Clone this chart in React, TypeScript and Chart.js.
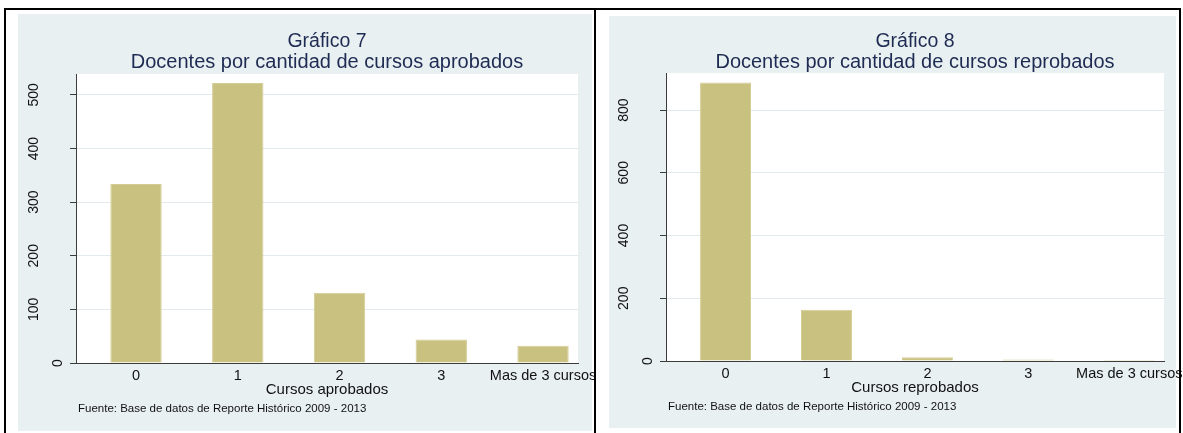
import React, { useEffect, useRef } from 'react';
import { Chart, registerables } from 'chart.js';

Chart.register(...registerables);

// ---------- data ----------
const categories = ['0', '1', '2', '3', 'Mas de 3 cursos'];
const aprobadosValues = [334, 522, 131, 44, 32];
const reprobadosValues = [888, 163, 12, 5, 3];
const aprobadosTicks = [0, 100, 200, 300, 400, 500];
const reprobadosTicks = [0, 200, 400, 600, 800];
const aprobadosTitle = ['Gráfico 7', 'Docentes por cantidad de cursos aprobados'];
const reprobadosTitle = ['Gráfico 8', 'Docentes por cantidad de cursos reprobados'];
const aprobadosAxisTitle = 'Cursos aprobados';
const reprobadosAxisTitle = 'Cursos reprobados';
const sourceNote = 'Fuente: Base de datos de Reporte Histórico 2009 - 2013';

// ---------- styles ----------
const FONT = "'Liberation Sans', Arial, Helvetica, sans-serif";
const BG = '#E9F0F2';
const BAR = '#C9C180';
const BAR_EDGE = '#D3CC93';
const AXIS = '#3c3c3c';
const GRID = '#E2EAEE';
const TITLE_COLOR = '#1E2B52';
const TEXT = '#111111';

type Geom = {
  left: number;
  width: number;
  height: number;
  bg: { x: number; y: number; w: number; h: number };
  plot: { left: number; top: number; right: number; bottom: number };
  yMax: number;
  xMin: number;
  xMax: number;
};

const leftGeom: Geom = {
  left: 0,
  width: 596,
  height: 433,
  bg: { x: 18, y: 14, w: 574, h: 417 },
  plot: { left: 76, top: 74, right: 578, bottom: 363 },
  yMax: 539,
  xMin: -0.59,
  xMax: 4.344,
};

const rightGeom: Geom = {
  left: 596,
  width: 587,
  height: 433,
  bg: { x: 13, y: 16, w: 567, h: 412 },
  plot: { left: 70, top: 73, right: 568, bottom: 361 },
  yMax: 918,
  xMin: -0.59,
  xMax: 4.344,
};

const decorPlugin = {
  id: 'panelDecor',
  beforeDraw(chart: any, _args: any, opts: any) {
    const ctx = chart.ctx;
    const { left, top, right, bottom } = chart.chartArea;
    ctx.save();
    ctx.fillStyle = BG;
    ctx.fillRect(opts.bg.x, opts.bg.y, opts.bg.w, opts.bg.h);
    ctx.fillStyle = '#ffffff';
    ctx.fillRect(left, top, right - left, bottom - top);
    ctx.restore();
  },
  afterDraw(chart: any, _args: any, opts: any) {
    const ctx = chart.ctx;
    const { left, right, bottom } = chart.chartArea;
    const xs = chart.scales.x;
    const ys = chart.scales.y;
    const cx = (left + right) / 2;
    ctx.save();

    // y tick labels (rotated)
    ctx.fillStyle = TEXT;
    ctx.font = `14px ${FONT}`;
    ctx.textAlign = 'center';
    ctx.textBaseline = 'middle';
    ys.ticks.forEach((t: any) => {
      const label = String(t.value);
      const y = ys.getPixelForValue(t.value);
      const x = left - (17.5 + (label.length - 1) * 12);
      ctx.save();
      ctx.translate(x, y);
      ctx.rotate(-Math.PI / 2);
      ctx.fillText(label, 0, 0);
      ctx.restore();
    });

    // x tick labels
    ctx.font = `14.5px ${FONT}`;
    ctx.textAlign = 'center';
    ctx.textBaseline = 'alphabetic';
    categories.forEach((c, i) => {
      ctx.fillText(c, xs.getPixelForValue(i), bottom + 17);
    });

    // axis title
    ctx.font = `15px ${FONT}`;
    ctx.fillText(opts.axisTitle, cx, bottom + 31);

    // source note
    ctx.font = `11.5px ${FONT}`;
    ctx.textAlign = 'left';
    ctx.fillText(sourceNote, left + 2, bottom + 48.5);

    // titles
    ctx.fillStyle = TITLE_COLOR;
    ctx.textAlign = 'center';
    ctx.font = `19.5px ${FONT}`;
    ctx.fillText(opts.title[0], cx, 47.3);
    ctx.font = `20px ${FONT}`;
    ctx.fillText(opts.title[1], cx, 67.7);

    ctx.restore();
  },
};

function buildChart(
  canvas: HTMLCanvasElement,
  values: number[],
  yTicks: number[],
  title: string[],
  axisTitle: string,
  g: Geom
) {
  return new Chart(canvas, {
    type: 'bar',
    data: {
      datasets: [
        {
          data: values.map((v, i) => ({ x: i, y: v })),
          backgroundColor: BAR,
          borderColor: BAR_EDGE,
          borderWidth: 1,
          barPercentage: 0.505,
          categoryPercentage: 1,
        } as any,
      ],
    },
    options: {
      responsive: false,
      animation: false,
      events: [],
      layout: {
        autoPadding: false,
        padding: { left: 0, top: g.plot.top, right: g.width - g.plot.right, bottom: 0 },
      } as any,
      plugins: {
        legend: { display: false },
        title: { display: false },
        tooltip: { enabled: false },
        panelDecor: { bg: g.bg, title, axisTitle },
      } as any,
      scales: {
        x: {
          type: 'linear',
          position: 'bottom',
          min: g.xMin,
          max: g.xMax,
          offset: false,
          grid: { display: false, drawTicks: false },
          border: { display: true, color: AXIS, width: 1, z: 1 },
          ticks: { display: false },
          afterBuildTicks: (s: any) => {
            s.ticks = categories.map((_, i) => ({ value: i }));
          },
          afterFit: (s: any) => {
            s.height = g.height - g.plot.bottom;
            s.paddingLeft = 0;
            s.paddingRight = 0;
          },
        } as any,
        y: {
          type: 'linear',
          min: 0,
          max: g.yMax,
          grid: {
            color: GRID,
            lineWidth: 1,
            drawTicks: true,
            tickLength: 6,
            tickColor: AXIS,
            tickWidth: 1,
          },
          border: { display: true, color: AXIS, width: 1, z: 1 },
          ticks: { display: false },
          afterBuildTicks: (s: any) => {
            s.ticks = yTicks.map((v) => ({ value: v }));
          },
          afterFit: (s: any) => {
            s.width = g.plot.left;
            s.paddingTop = 0;
            s.paddingBottom = 0;
          },
        } as any,
      },
    },
    plugins: [decorPlugin as any],
  });
}

export default function App() {
  const leftRef = useRef<HTMLCanvasElement>(null);
  const rightRef = useRef<HTMLCanvasElement>(null);

  useEffect(() => {
    const c1 = buildChart(
      leftRef.current!,
      aprobadosValues,
      aprobadosTicks,
      aprobadosTitle,
      aprobadosAxisTitle,
      leftGeom
    );
    const c2 = buildChart(
      rightRef.current!,
      reprobadosValues,
      reprobadosTicks,
      reprobadosTitle,
      reprobadosAxisTitle,
      rightGeom
    );
    return () => {
      c1.destroy();
      c2.destroy();
    };
  }, []);

  return (
    <div
      style={{
        position: 'absolute',
        left: 0,
        top: 0,
        width: 1183,
        height: 433,
        overflow: 'hidden',
        background: '#ffffff',
      }}
    >
      <canvas
        ref={leftRef}
        width={leftGeom.width}
        height={leftGeom.height}
        style={{ position: 'absolute', left: leftGeom.left, top: 0, width: leftGeom.width, height: leftGeom.height }}
      />
      <canvas
        ref={rightRef}
        width={rightGeom.width}
        height={rightGeom.height}
        style={{ position: 'absolute', left: rightGeom.left, top: 0, width: rightGeom.width, height: rightGeom.height }}
      />
      <div
        style={{
          position: 'absolute',
          left: 4,
          top: 8,
          width: 1177,
          height: 440,
          border: '2px solid #000',
          boxSizing: 'border-box',
          pointerEvents: 'none',
        }}
      />
      <div
        style={{
          position: 'absolute',
          left: 594,
          top: 8,
          width: 2,
          height: 430,
          background: '#000',
          pointerEvents: 'none',
        }}
      />
    </div>
  );
}
